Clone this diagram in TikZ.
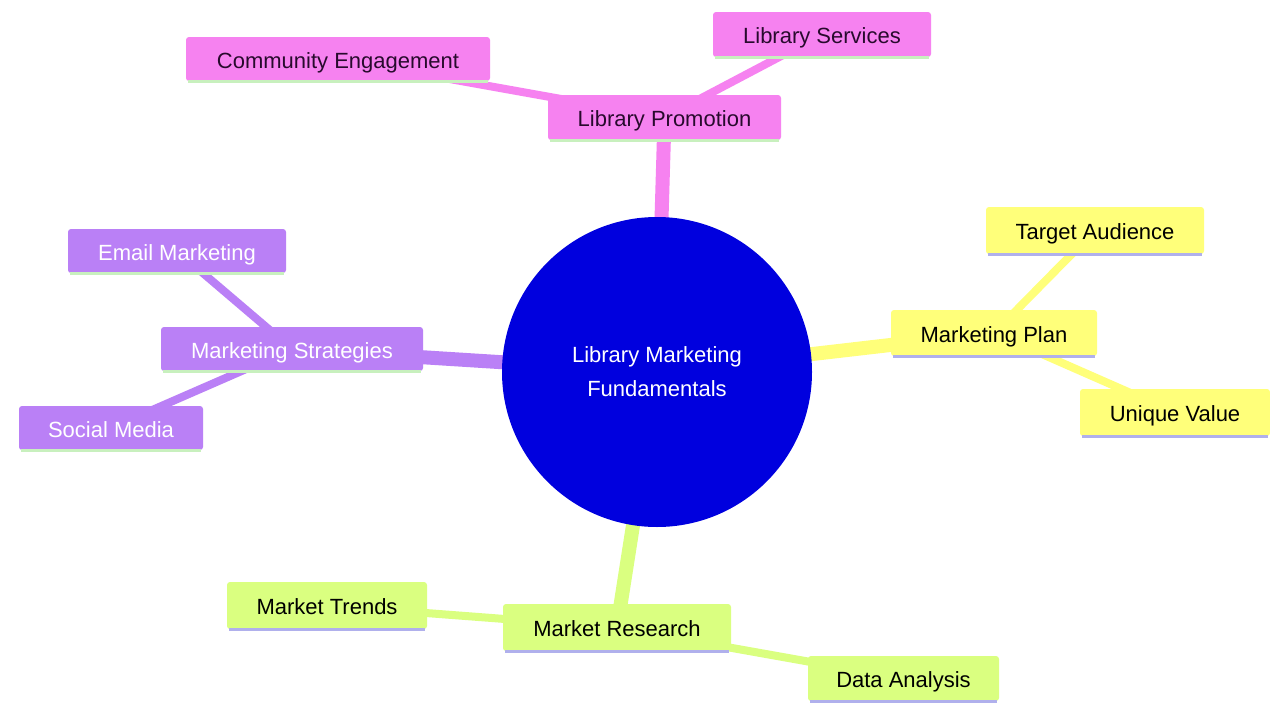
\documentclass[tikz,border=0pt]{standalone}
\usepackage{fontspec}
\setmainfont{Liberation Sans}
\usetikzlibrary{backgrounds}
\begin{document}
\begin{tikzpicture}[x=1pt,y=-1pt,
  box/.style={rectangle,rounded corners=3pt,inner sep=0pt,text height=18pt,text depth=0pt,font=\fontsize{22}{26}\selectfont},
  pinkbox/.style={box,fill=cpink,text=ctext},
  purplebox/.style={box,fill=cpurple,text=white},
  yellowbox/.style={box,fill=cyellow,text=black},
  greenbox/.style={box,fill=cgreen,text=black},
  rootedge/.style={line width=14pt},
  childedge/.style={line width=8pt},
  lineG/.style={draw=cline1,line width=3pt},
  lineL/.style={draw=cline2,line width=3pt}]
\definecolor{cpink}{RGB}{246,130,240}
\definecolor{cpurple}{RGB}{186,128,246}
\definecolor{cyellow}{RGB}{255,255,122}
\definecolor{cgreen}{RGB}{218,255,128}
\definecolor{croot}{RGB}{0,0,222}
\definecolor{ctext}{RGB}{40,10,45}
\definecolor{cline1}{RGB}{200,240,190}
\definecolor{cline2}{RGB}{176,176,236}
\path[use as bounding box] (0,0) rectangle (1270,704);

% nodes
\node[circle,fill=croot,minimum size=310pt,inner sep=0pt,text=white,align=center,font=\fontsize{22}{34}\selectfont] (root) at (657,372) {Library Marketing\\Fundamentals};

\node[pinkbox,minimum width=233pt,minimum height=45pt] (prom) at (664.5,117.5) {Library Promotion};
\node[pinkbox,minimum width=304pt,minimum height=44pt] (comm) at (338,59) {Community Engagement};
\node[pinkbox,minimum width=218pt,minimum height=45pt] (serv) at (822,34.5) {Library Services};

\node[purplebox,minimum width=262pt,minimum height=44pt] (strat) at (292,349) {Marketing Strategies};
\node[purplebox,minimum width=218pt,minimum height=44pt] (email) at (177,251) {Email Marketing};
\node[purplebox,minimum width=184pt,minimum height=44pt] (social) at (111,428) {Social Media};

\node[yellowbox,minimum width=206pt,minimum height=46pt] (plan) at (994,333) {Marketing Plan};
\node[yellowbox,minimum width=218pt,minimum height=47pt] (target) at (1095,230.5) {Target Audience};
\node[yellowbox,minimum width=190pt,minimum height=47pt] (unique) at (1175,412.5) {Unique Value};

\node[greenbox,minimum width=228pt,minimum height=47pt] (research) at (617,627.5) {Market Research};
\node[greenbox,minimum width=200pt,minimum height=47pt] (trends) at (327,605.5) {Market Trends};
\node[greenbox,minimum width=191pt,minimum height=45pt] (data) at (903.5,678.5) {Data Analysis};

% bottom lines
\foreach \n in {prom,comm,serv,strat,email,social}
  \draw[lineG] ([xshift=2pt]\n.south west) -- ([xshift=-2pt]\n.south east);
\foreach \n in {plan,target,unique,research,trends,data}
  \draw[lineL] ([xshift=2pt]\n.south west) -- ([xshift=-2pt]\n.south east);

% edges behind
\begin{pgfonlayer}{background}
\fill[white] (0,0) rectangle (1270,704);
\draw[rootedge,cpink] (root.center) -- (prom.center);
\draw[rootedge,cpurple] (root.center) -- (strat.center);
\draw[rootedge,cyellow] (root.center) -- (plan.center);
\draw[rootedge,cgreen] (root.center) -- (research.center);
\draw[childedge,cpink] (prom.center) -- (comm.center);
\draw[childedge,cpink] (prom.center) -- (serv.center);
\draw[childedge,cpurple] (strat.center) -- (email.center);
\draw[childedge,cpurple] (strat.center) -- (social.center);
\draw[childedge,cyellow] (plan.center) -- (target.center);
\draw[childedge,cyellow] (plan.center) -- (unique.center);
\draw[childedge,cgreen] (research.center) -- (trends.center);
\draw[childedge,cgreen] (research.center) -- (data.center);
\end{pgfonlayer}
\end{tikzpicture}
\end{document}
